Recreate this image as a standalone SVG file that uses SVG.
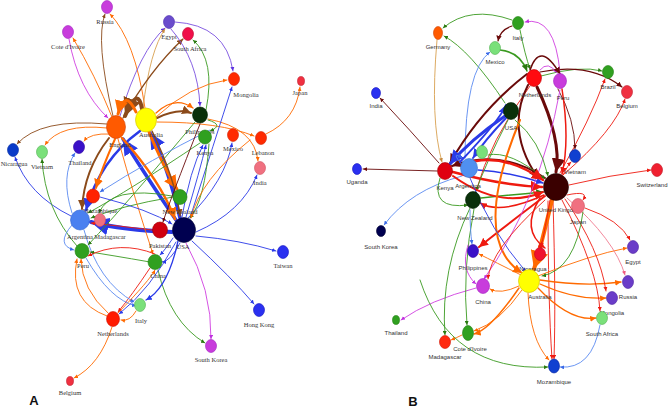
<svg xmlns="http://www.w3.org/2000/svg" width="669" height="410" viewBox="0 0 669 410">
<style>
.e{fill:none;stroke-width:0.9;stroke-linecap:round}
.or{stroke:#ff6a00;marker-end:url(#m-or)}
.bl{stroke:#2a3ae8;marker-end:url(#m-bl)}
.br{stroke:#8b4a1a;marker-end:url(#m-br)}
.gr{stroke:#3a9a20;marker-end:url(#m-gr)}
.pu{stroke:#7a50e0;marker-end:url(#m-pu)}
.mg{stroke:#d040e0;marker-end:url(#m-mg)}
.rd{stroke:#ee1a10;marker-end:url(#m-rd)}
.dr{stroke:#6a0a0a;marker-end:url(#m-dr)}
.lb{stroke:#5a8af0;marker-end:url(#m-lb)}
.tn{stroke:#d8a050;marker-end:url(#m-tn)}
.pk{stroke:#f07a90;marker-end:url(#m-pk)}
.la{font-family:"Liberation Serif","DejaVu Serif",serif;font-size:6.5px;fill:#333;text-anchor:middle}
.lbb{font-family:"Liberation Sans","DejaVu Sans",sans-serif;font-size:6px;fill:#333;text-anchor:middle}
.big{font-family:"Liberation Sans",Arial,sans-serif;font-size:13px;font-weight:bold;fill:#111;text-anchor:middle}
ellipse{stroke-width:0.6}
</style>
<defs>
<marker id="m-or" viewBox="0 0 10 10" refX="10" refY="5" markerWidth="4.5" markerHeight="4.5" orient="auto"><path d="M0,0L10,5L0,10z" fill="#ff6a00"/></marker>
<marker id="m-bl" viewBox="0 0 10 10" refX="10" refY="5" markerWidth="4.5" markerHeight="4.5" orient="auto"><path d="M0,0L10,5L0,10z" fill="#2a3ae8"/></marker>
<marker id="m-br" viewBox="0 0 10 10" refX="10" refY="5" markerWidth="4.5" markerHeight="4.5" orient="auto"><path d="M0,0L10,5L0,10z" fill="#8b4a1a"/></marker>
<marker id="m-gr" viewBox="0 0 10 10" refX="10" refY="5" markerWidth="4.5" markerHeight="4.5" orient="auto"><path d="M0,0L10,5L0,10z" fill="#2a7a10"/></marker>
<marker id="m-pu" viewBox="0 0 10 10" refX="10" refY="5" markerWidth="4.5" markerHeight="4.5" orient="auto"><path d="M0,0L10,5L0,10z" fill="#5a30e0"/></marker>
<marker id="m-mg" viewBox="0 0 10 10" refX="10" refY="5" markerWidth="4.5" markerHeight="4.5" orient="auto"><path d="M0,0L10,5L0,10z" fill="#c030e0"/></marker>
<marker id="m-rd" viewBox="0 0 10 10" refX="10" refY="5" markerWidth="4.5" markerHeight="4.5" orient="auto"><path d="M0,0L10,5L0,10z" fill="#ee1a10"/></marker>
<marker id="m-dr" viewBox="0 0 10 10" refX="10" refY="5" markerWidth="4.5" markerHeight="4.5" orient="auto"><path d="M0,0L10,5L0,10z" fill="#6a0a0a"/></marker>
<marker id="m-lb" viewBox="0 0 10 10" refX="10" refY="5" markerWidth="4.5" markerHeight="4.5" orient="auto"><path d="M0,0L10,5L0,10z" fill="#3a6ae8"/></marker>
<marker id="m-tn" viewBox="0 0 10 10" refX="10" refY="5" markerWidth="4.5" markerHeight="4.5" orient="auto"><path d="M0,0L10,5L0,10z" fill="#c88a40"/></marker>
<marker id="m-pk" viewBox="0 0 10 10" refX="10" refY="5" markerWidth="4.5" markerHeight="4.5" orient="auto"><path d="M0,0L10,5L0,10z" fill="#f05a80"/></marker>
</defs>
<rect width="669" height="410" fill="#fff"/>

<g id="connectors-a">
<path class="e or" d="M112,117 Q95,75 73,38"/>
<path class="e mg" d="M69,39 Q78,90 108,118"/>
<path class="e br" d="M113,116 Q95,40 105,14"/>
<path class="e or" d="M145,108 Q135,40 110,14"/>
<path class="e pu" d="M120,116 Q140,50 165,28"/>
<path class="e tn" d="M143,108 Q150,50 165,29"/>
<path class="e br" style="stroke-width:1.3" d="M123,118 Q150,70 183,39"/>
<path class="e pu" d="M171,29 Q198,60 200,106"/>
<path class="e pu" d="M175,22 Q226,25 233,71"/>
<path class="e gr" d="M206,110 Q216,60 193,40"/>
<path class="e or" d="M156,117 Q190,85 227,80"/>
<path class="e br" style="stroke-width:2" d="M157,118 Q178,108 191,113"/>
<path class="e or" style="stroke-width:1.3" d="M156,113 Q175,95 193,108"/>
<path class="e or" d="M157,122 Q220,122 254,136"/>
<path class="e or" d="M266,134 Q296,120 300,87"/>
<path class="e or" d="M208,119 Q255,128 258,161"/>
<path class="e gr" d="M208,120 Q225,125 210,131"/>
<path class="e bl" d="M190,218 Q215,140 232,87"/>
<path class="e bl" d="M188,218 Q226,180 232,143"/>
<path class="e bl" d="M182,217 Q190,170 203,145"/>
<path class="e bl" d="M186,217 Q200,170 206,145"/>
<path class="e bl" d="M196,232 Q242,212 257,175"/>
<path class="e bl" d="M196,236 Q240,240 276,251"/>
<path class="e bl" d="M192,241 Q232,278 254,304"/>
<path class="e gr" d="M158,270 Q170,322 205,343"/>
<path class="e mg" d="M186,243 Q212,290 211,339"/>
<path class="e br" d="M107,124 Q40,118 17,144"/>
<path class="e or" d="M107,128 Q60,123 45,145"/>
<path class="e or" d="M110,134 Q90,133 84,141"/>
<path class="e bl" d="M71,216 Q28,195 15,157"/>
<path class="e gr" d="M77,246 Q45,210 42,159"/>
<path class="e lb" d="M72,213 Q60,176 75,153"/>
<path class="e or" d="M108,313 Q82,290 81,259"/>
<path class="e or" d="M107,316 Q68,302 77,259"/>
<path class="e or" d="M112,327 Q100,365 74,378"/>
<path class="e or" d="M136,311 Q130,322 121,320"/>
<path class="e rd" d="M150,268 Q132,295 118,312"/>
<path class="e bl" style="stroke-width:1.3" d="M178,241 Q168,288 146,300"/>
<path class="e bl" d="M176,242 Q150,290 119,314"/>
<path class="e lb" d="M84,230 Q98,282 134,302"/>
<path class="e lb" d="M72,225 Q55,245 74,250"/>
<path class="e bl" style="stroke-width:3.5" d="M176,220 Q142,170 123,139"/>
<path class="e bl" style="stroke-width:3.5" d="M180,218 Q166,160 150,133"/>
<path class="e bl" style="stroke-width:4" d="M172,232 Q122,230 91,222"/>
<path class="e br" style="stroke-width:2" d="M109,138 Q84,170 82,209"/>
<path class="e bl" style="stroke-width:2.5" d="M140,131 Q100,160 86,210"/>
<path class="e or" style="stroke-width:3" d="M149,132 Q165,170 177,189"/>
<path class="e or" style="stroke-width:2" d="M115,139 Q102,168 96,188"/>
<path class="e br" style="stroke-width:4" d="M142,109 Q138,85 125,116"/>
<path class="e or" style="stroke-width:3" d="M136,112 Q125,88 118,114"/>
<path class="e gr" d="M173,197 Q120,206 91,218"/>
<path class="e rd" d="M152,230 Q120,226 91,223"/>
<path class="e bl" d="M180,243 Q170,262 162,262"/>
<path class="e gr" d="M200,143 Q130,190 88,213"/>
<path class="e gr" d="M195,122 Q130,200 88,245"/>
<path class="e br" style="stroke-width:1.5" d="M152,131 Q175,178 180,216"/>
<path class="e or" style="stroke-width:2.5" d="M122,138 Q160,180 175,219"/>
<path class="e or" d="M118,139 Q135,200 153,254"/>
<path class="e gr" d="M172,196 Q110,185 99,213"/>
<path class="e bl" d="M100,197 Q150,210 172,224"/>
<path class="e lb" d="M210,130 Q150,160 100,192"/>
<path class="e dr" d="M200,124 Q170,200 163,222"/>
<path class="e gr" d="M209,144 Q205,200 190,218"/>
<path class="e or" d="M250,140 Q200,180 191,218"/>
<path class="e gr" d="M150,262 Q110,255 90,252"/>
<path class="e rd" d="M155,254 Q120,240 88,256"/>
<path class="e or" d="M118,313 Q150,280 155,270"/>
<path class="e bl" d="M173,238 Q165,250 160,255"/>
<path class="e lb" d="M86,258 Q110,300 136,306"/>
</g>

<g id="connectors-b">
<path class="e dr" d="M437,171 Q400,170 363,169"/>
<path class="e dr" d="M439,163 Q410,130 380,98"/>
<path class="e lb" d="M462,176 Q410,190 384,225"/>
<path class="e mg" d="M476,288 Q430,300 401,320"/>
<path class="e or" d="M462,335 Q456,338 451,340"/>
<path class="e lb" d="M600,325 Q592,370 560,367"/>
<path class="e or" d="M528,293 Q530,340 549,360"/>
<path class="e rd" d="M553,201 Q556,300 554,359"/>
<path class="e rd" d="M548,201 Q548,300 552,359"/>
<path class="e or" style="stroke-width:1.3" d="M538,288 Q570,322 596,318"/>
<path class="e or" style="stroke-width:1.3" d="M540,284 Q575,300 606,298"/>
<path class="e or" style="stroke-width:1.3" d="M540,280 Q585,287 621,282"/>
<path class="e or" d="M538,276 Q590,255 627,248"/>
<path class="e rd" d="M569,185 Q610,175 651,170"/>
<path class="e rd" d="M567,195 Q590,190 583,200"/>
<path class="e rd" d="M585,208 Q620,220 630,240"/>
<path class="e rd" d="M563,175 Q568,165 571,162"/>
<path class="e gr" d="M541,76 Q580,65 602,71"/>
<path class="e dr" style="stroke-width:1.2" d="M540,72 Q590,62 622,87"/>
<path class="e dr" style="stroke-width:1.2" d="M512,26 Q500,30 498,41"/>
<path class="e gr" d="M512,20 Q470,5 443,28"/>
<path class="e mg" d="M560,73 Q555,15 525,22"/>
<path class="e gr" d="M505,103 Q470,50 444,36"/>
<path class="e lb" d="M465,158 Q465,70 490,52"/>
<path class="e tn" d="M437,40 Q430,120 442,162"/>
<path class="e mg" d="M540,70 Q548,60 557,73"/>
<path class="e rd" d="M560,173 Q590,120 605,79"/>
<path class="e rd" d="M563,175 Q615,130 625,99"/>
<path class="e gr" style="stroke-width:1.5" d="M500,50 Q520,52 527,71"/>
<path class="e gr" d="M520,30 Q525,55 530,69"/>
<path class="e rd" style="stroke-width:2.5" d="M453,172 Q500,185 542,187"/>
<path class="e dr" style="stroke-width:2" d="M545,178 Q500,148 452,166"/>
<path class="e bl" style="stroke-width:1.5" d="M478,170 Q510,172 543,183"/>
<path class="e gr" style="stroke-width:1.5" d="M481,198 Q510,195 543,192"/>
<path class="e or" style="stroke-width:4" d="M552,200 Q540,250 534,269"/>
<path class="e rd" d="M550,200 Q545,230 541,247"/>
<path class="e rd" style="stroke-width:2" d="M545,196 Q500,230 479,247"/>
<path class="e dr" style="stroke-width:3" d="M537,87 Q562,140 556,172"/>
<path class="e dr" style="stroke-width:2" d="M527,74 Q480,110 450,163"/>
<path class="e rd" d="M530,86 Q490,140 476,191"/>
<path class="e bl" style="stroke-width:3" d="M505,116 Q470,140 450,164"/>
<path class="e bl" style="stroke-width:2" d="M506,118 Q485,140 473,158"/>
<path class="e gr" d="M508,120 Q485,165 476,191"/>
<path class="e or" d="M519,286 Q500,295 490,289"/>
<path class="e or" d="M521,275 Q495,262 479,254"/>
<path class="e or" d="M522,290 Q500,322 474,331"/>
<path class="e or" style="stroke-width:1.5" d="M519,288 Q490,330 474,334"/>
<path class="e gr" d="M470,208 Q440,270 445,335"/>
<path class="e gr" d="M474,209 Q462,270 467,325"/>
<path class="e gr" d="M420,280 Q450,372 548,367"/>
<path class="e gr" d="M440,178 Q430,210 468,205"/>
<path class="e dr" d="M558,89 Q575,120 575,149"/>
<path class="e rd" style="stroke-width:1.5" d="M562,89 Q570,140 562,174"/>
<path class="e rd" d="M565,199 Q600,250 606,291"/>
<path class="e rd" d="M562,200 Q598,270 600,311"/>
<path class="e pk" d="M567,198 Q615,240 625,275"/>
<path class="e lb" d="M462,165 Q450,150 462,158"/>
<path class="e dr" style="stroke-width:2" d="M528,85 Q505,130 538,178"/>
<path class="e dr" style="stroke-width:1.5" d="M530,70 Q540,40 560,74"/>
<path class="e rd" style="stroke-width:2" d="M453,176 Q500,210 543,192"/>
<path class="e bl" style="stroke-width:2" d="M460,162 Q500,120 506,105"/>
<path class="e gr" d="M488,155 Q510,150 545,179"/>
<path class="e rd" style="stroke-width:1.5" d="M544,195 Q500,215 480,203"/>
<path class="e or" style="stroke-width:2" d="M520,120 Q470,240 522,273"/>
<path class="e mg" d="M560,90 Q540,200 484,279"/>
<path class="e gr" d="M515,120 Q540,140 548,176"/>
<path class="e bl" d="M470,178 Q490,230 526,272"/>
<path class="e mg" d="M468,245 Q460,270 476,284"/>
<path class="e rd" d="M545,200 Q490,250 488,279"/>
<path class="e lb" d="M470,210 Q470,230 472,244"/>
<path class="e gr" d="M583,212 Q575,270 542,276"/>
<path class="e rd" style="stroke-width:2.5" d="M462,165 Q500,150 543,180"/>
<path class="e rd" style="stroke-width:1.5" d="M540,198 Q520,230 545,248"/>
</g>

<g id="a-russia"><ellipse cx="107" cy="7" rx="5.5" ry="6.5" fill="#c83cdc" stroke="#a020c0"/><text class="la" x="105" y="24">Russia</text></g>
<g id="a-cote"><ellipse cx="68" cy="32" rx="5.5" ry="6.5" fill="#c83cdc" stroke="#a020c0"/><text class="la" x="68" y="49">Cote d'Ivoire</text></g>
<g id="a-egypt"><ellipse cx="169" cy="22" rx="5.5" ry="6.5" fill="#6a4ccc" stroke="#4a2cac"/><text class="la" x="169" y="39">Egypt</text></g>
<g id="a-southafrica"><ellipse cx="188" cy="34" rx="5.5" ry="6.5" fill="#f0104a" stroke="#c0002a"/><text class="la" x="190" y="51">South Africa</text></g>
<g id="a-mongolia"><ellipse cx="234" cy="79" rx="5.5" ry="6.5" fill="#ff2a00" stroke="#d02000"/><text class="la" x="246" y="97">Mongolia</text></g>
<g id="a-japan"><ellipse cx="301" cy="81" rx="3.5" ry="4.5" fill="#f03040" stroke="#c02030"/><text class="la" x="300" y="95">Japan</text></g>
<g id="a-nicaragua"><ellipse cx="13" cy="150" rx="5.5" ry="6.5" fill="#0a3ac8" stroke="#002aa0"/><text class="la" x="14" y="166">Nicaragua</text></g>
<g id="a-vietnam"><ellipse cx="42" cy="152" rx="5.5" ry="6.5" fill="#7ae07a" stroke="#50b050"/><text class="la" x="42" y="169">Vietnam</text></g>
<g id="a-thailand"><ellipse cx="79" cy="147" rx="5.5" ry="6.5" fill="#3a10c8" stroke="#2a00a0"/><text class="la" x="80" y="165">Thailand</text></g>
<g id="a-england"><ellipse cx="116" cy="127" rx="9.5" ry="11.5" fill="#ff5a00" stroke="#d04000"/><text class="la" x="120" y="147">England</text></g>
<g id="a-australia"><ellipse cx="146" cy="120" rx="10.5" ry="12" fill="#ffff00" stroke="#d0c000"/><text class="la" x="151" y="137">Australia</text></g>
<g id="a-philippines"><ellipse cx="200" cy="115" rx="7.5" ry="8" fill="#0a300a" stroke="#002000"/><text class="la" x="200" y="134">Philippines</text></g>
<g id="a-kenya"><ellipse cx="205" cy="137" rx="6.5" ry="7" fill="#30a020" stroke="#208010"/><text class="la" x="205" y="155">Kenya</text></g>
<g id="a-mexico"><ellipse cx="233" cy="135" rx="5.5" ry="6.5" fill="#ff2a00" stroke="#d02000"/><text class="la" x="233" y="151">Mexico</text></g>
<g id="a-lebanon"><ellipse cx="261" cy="138" rx="5.5" ry="6.5" fill="#ff2a00" stroke="#d02000"/><text class="la" x="263" y="155">Lebanon</text></g>
<g id="a-india"><ellipse cx="260" cy="168" rx="5.5" ry="6.5" fill="#f07080" stroke="#d05060"/><text class="la" x="260" y="185">India</text></g>
<g id="a-mozambique"><ellipse cx="93" cy="196" rx="6.5" ry="7" fill="#ff2200" stroke="#d01000"/><text class="la" x="100" y="213">Mozambique</text></g>
<g id="a-argentina"><ellipse cx="80" cy="220" rx="9.5" ry="10" fill="#4a80f0" stroke="#2a60d0"/><text class="la" x="80" y="239">Argentina</text></g>
<g id="a-madagascar"><ellipse cx="100" cy="220" rx="5.5" ry="6.5" fill="#f07080" stroke="#d05060"/><text class="la" x="110" y="239">Madagascar</text></g>
<g id="a-peru"><ellipse cx="82" cy="251" rx="7" ry="7.5" fill="#30a020" stroke="#208010"/><text class="la" x="83" y="268">Peru</text></g>
<g id="a-newzealand"><ellipse cx="180" cy="197" rx="7" ry="7.5" fill="#30a020" stroke="#208010"/><text class="la" x="180" y="214">New Zealand</text></g>
<g id="a-pakistan"><ellipse cx="160" cy="230" rx="7.5" ry="8" fill="#d00010" stroke="#a00000"/><text class="la" x="160" y="248">Pakistan</text></g>
<g id="a-usa"><ellipse cx="184" cy="230" rx="11.5" ry="12.5" fill="#000050" stroke="#000030"/><text class="la" x="183" y="249">USA</text></g>
<g id="a-china"><ellipse cx="155" cy="262" rx="7" ry="7.5" fill="#30a020" stroke="#208010"/><text class="la" x="158" y="278">China</text></g>
<g id="a-italy"><ellipse cx="140" cy="305" rx="5.5" ry="6.5" fill="#7ae07a" stroke="#50b050"/><text class="la" x="141" y="323">Italy</text></g>
<g id="a-netherlands"><ellipse cx="113" cy="319" rx="6.5" ry="7.5" fill="#ff1a00" stroke="#d01000"/><text class="la" x="113" y="336">Netherlands</text></g>
<g id="a-belgium"><ellipse cx="70" cy="381" rx="3.5" ry="4.5" fill="#f03040" stroke="#c02030"/><text class="la" x="70" y="395">Belgium</text></g>
<g id="a-southkorea"><ellipse cx="211" cy="346" rx="5.5" ry="6.5" fill="#c83cdc" stroke="#a020c0"/><text class="la" x="211" y="362">South Korea</text></g>
<g id="a-hongkong"><ellipse cx="259" cy="310" rx="5.5" ry="6.5" fill="#2a30f0" stroke="#1010c0"/><text class="la" x="259" y="327">Hong Kong</text></g>
<g id="a-taiwan"><ellipse cx="283" cy="252" rx="5.5" ry="6.5" fill="#2a30f0" stroke="#1010c0"/><text class="la" x="283" y="268">Taiwan</text></g>
<g id="label-a"><text class="big" x="34" y="405">A</text></g>

<g id="b-germany"><ellipse cx="438" cy="33" rx="4.5" ry="6.5" fill="#ff5a00" stroke="#d04000"/><text class="lbb" x="438" y="49">Germany</text></g>
<g id="b-italy"><ellipse cx="518" cy="23" rx="5.5" ry="6.5" fill="#30a020" stroke="#208010"/><text class="lbb" x="518" y="40">Italy</text></g>
<g id="b-mexico"><ellipse cx="495" cy="48" rx="5.5" ry="6.5" fill="#7ae07a" stroke="#50b050"/><text class="lbb" x="495" y="64">Mexico</text></g>
<g id="b-netherlands"><ellipse cx="534" cy="78" rx="7.5" ry="8.5" fill="#ff0a10" stroke="#c00000"/><text class="lbb" x="535" y="97">Netherlands</text></g>
<g id="b-peru"><ellipse cx="560" cy="81" rx="6.5" ry="7.5" fill="#c83cdc" stroke="#a020c0"/><text class="lbb" x="563" y="100">Peru</text></g>
<g id="b-brazil"><ellipse cx="608" cy="72" rx="5.5" ry="6.5" fill="#30a020" stroke="#208010"/><text class="lbb" x="608" y="89">Brazil</text></g>
<g id="b-belgium"><ellipse cx="627" cy="92" rx="5.5" ry="6.5" fill="#f03040" stroke="#c02030"/><text class="lbb" x="627" y="108">Belgium</text></g>
<g id="b-india"><ellipse cx="376" cy="93" rx="4.5" ry="5.5" fill="#2a30f0" stroke="#1010c0"/><text class="lbb" x="376" y="108">India</text></g>
<g id="b-usa"><ellipse cx="511" cy="111" rx="7.5" ry="8.5" fill="#0a300a" stroke="#002000"/><text class="lbb" x="511" y="130">USA</text></g>
<g id="b-uganda"><ellipse cx="357" cy="169" rx="4.5" ry="5.5" fill="#2a30f0" stroke="#1010c0"/><text class="lbb" x="357" y="184">Uganda</text></g>
<g id="b-kenya"><ellipse cx="445" cy="171" rx="7.5" ry="8.5" fill="#e00010" stroke="#a00000"/><text class="lbb" x="445" y="190">Kenya</text></g>
<g id="b-green"><ellipse cx="482" cy="152" rx="5.5" ry="6.5" fill="#7ae07a" stroke="#50b050"/></g>
<g id="b-argentina"><ellipse cx="469" cy="168" rx="8.5" ry="9.5" fill="#5090f0" stroke="#3070d0"/><text class="lbb" x="468" y="188">Argentina</text></g>
<g id="b-newzealand"><ellipse cx="473" cy="200" rx="7.5" ry="8.5" fill="#0a300a" stroke="#002000"/><text class="lbb" x="475" y="220">New Zealand</text></g>
<g id="b-southkorea"><ellipse cx="381" cy="231" rx="4.5" ry="5.5" fill="#000050" stroke="#000030"/><text class="lbb" x="381" y="249">South Korea</text></g>
<g id="b-uk"><ellipse cx="556" cy="187" rx="12.5" ry="13.5" fill="#3a0000" stroke="#200000"/><text class="lbb" x="560" y="212">United Kingdom</text></g>
<g id="b-vietnam"><ellipse cx="575" cy="156" rx="5.5" ry="6.5" fill="#1040d0" stroke="#0020a0"/><text class="lbb" x="575" y="174">Vietnam</text></g>
<g id="b-switzerland"><ellipse cx="657" cy="170" rx="5.5" ry="6.5" fill="#f02030" stroke="#c01020"/><text class="lbb" x="652" y="187">Switzerland</text></g>
<g id="b-japan"><ellipse cx="578" cy="206" rx="6.5" ry="7.5" fill="#f07080" stroke="#d05060"/><text class="lbb" x="578" y="224">Japan</text></g>
<g id="b-egypt"><ellipse cx="633" cy="247" rx="5.5" ry="6.5" fill="#6a3cc8" stroke="#4a20a0"/><text class="lbb" x="633" y="264">Egypt</text></g>
<g id="b-philippines"><ellipse cx="473" cy="251" rx="5.5" ry="6.5" fill="#3a10c8" stroke="#2a00a0"/><text class="lbb" x="473" y="270">Philippines</text></g>
<g id="b-nicaragua"><ellipse cx="540" cy="254" rx="5.5" ry="6.5" fill="#f01030" stroke="#c00020"/><text class="lbb" x="533" y="271">Nicaragua</text></g>
<g id="b-china"><ellipse cx="483" cy="286" rx="6.5" ry="7.5" fill="#c83cdc" stroke="#a020c0"/><text class="lbb" x="483" y="304">China</text></g>
<g id="b-australia"><ellipse cx="529" cy="281" rx="10.5" ry="11.5" fill="#ffff00" stroke="#d0c000"/><text class="lbb" x="540" y="299">Australia</text></g>
<g id="b-russia"><ellipse cx="628" cy="282" rx="5.5" ry="6.5" fill="#6a3cc8" stroke="#4a20a0"/><text class="lbb" x="628" y="299">Russia</text></g>
<g id="b-mongolia"><ellipse cx="612" cy="298" rx="5.5" ry="6.5" fill="#6a3cc8" stroke="#4a20a0"/><text class="lbb" x="612" y="315">Mongolia</text></g>
<g id="b-southafrica"><ellipse cx="602" cy="318" rx="5.5" ry="6.5" fill="#7ae07a" stroke="#50b050"/><text class="lbb" x="602" y="336">South Africa</text></g>
<g id="b-thailand"><ellipse cx="396" cy="320" rx="3.5" ry="4.5" fill="#30a020" stroke="#208010"/><text class="lbb" x="396" y="335">Thailand</text></g>
<g id="b-cote"><ellipse cx="468" cy="333" rx="5.5" ry="7.5" fill="#30a020" stroke="#208010"/><text class="lbb" x="470" y="351">Cote d'Ivoire</text></g>
<g id="b-madagascar"><ellipse cx="445" cy="342" rx="5.5" ry="6.5" fill="#ff2a10" stroke="#d01000"/><text class="lbb" x="445" y="359">Madagascar</text></g>
<g id="b-mozambique"><ellipse cx="554" cy="366" rx="5.5" ry="7" fill="#1040d0" stroke="#0020a0"/><text class="lbb" x="554" y="384">Mozambique</text></g>
<g id="label-b"><text class="big" x="413" y="406">B</text></g>
</svg>
